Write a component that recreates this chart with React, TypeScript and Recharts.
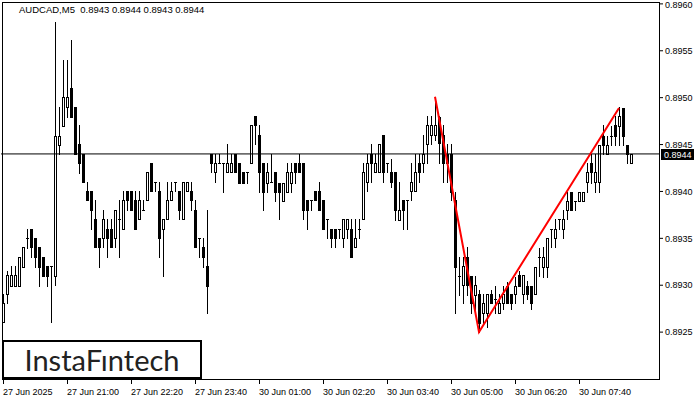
import React from "react";
import { ComposedChart, Bar, Line, XAxis, YAxis, ReferenceLine } from "recharts";

// AUDCAD M5, 27 Jun 2025 19:40 .. 30 Jun 08:45
const opens = [
  0.89261, 0.89291, 0.89299, 0.89299, 0.89299, 0.89319, 0.8935, 0.8936, 0.8935, 0.89341,
  0.8933, 0.8932, 0.8932, 0.8931, 0.8945, 0.8947, 0.8949, 0.8951, 0.8949, 0.89451,
  0.8944, 0.894, 0.894, 0.89371, 0.8935, 0.8935, 0.8936, 0.8936, 0.8935, 0.89371,
  0.8936, 0.894, 0.894, 0.89391, 0.89371, 0.8938, 0.89391, 0.8943, 0.8941, 0.894,
  0.8936, 0.89371, 0.89391, 0.8941, 0.894, 0.89371, 0.894, 0.894, 0.8938, 0.8935,
  0.89341, 0.8932, 0.8944, 0.89421, 0.8943, 0.8943, 0.89421, 0.89421, 0.8944, 0.8943,
  0.89421, 0.89421, 0.8943, 0.8948, 0.8946, 0.8943, 0.89409, 0.8941, 0.89421, 0.89409,
  0.8939, 0.89399, 0.89409, 0.8943, 0.8943, 0.8943, 0.89391, 0.89391, 0.894, 0.894,
  0.89391, 0.89371, 0.8936, 0.8936, 0.8936, 0.8935, 0.8936, 0.8936, 0.89341, 0.8936,
  0.89371, 0.8941, 0.8944, 0.89421, 0.89421, 0.8946, 0.8943, 0.89421, 0.89421, 0.8937,
  0.89391, 0.89391, 0.894, 0.894, 0.8943, 0.8943, 0.89451, 0.8946, 0.8946, 0.89479,
  0.8946, 0.8944, 0.8944, 0.89391, 0.8931, 0.893, 0.8933, 0.8931, 0.8929, 0.89291,
  0.8927, 0.8927, 0.89291, 0.89285, 0.8927, 0.89281, 0.89299, 0.89291, 0.89291, 0.89311,
  0.89291, 0.89299, 0.89299, 0.89291, 0.8933, 0.89319, 0.89319, 0.8936, 0.8935, 0.89371,
  0.8936, 0.8938, 0.89399, 0.8939, 0.8939, 0.8939, 0.8941, 0.8943, 0.8941, 0.8941,
  0.89459, 0.8944, 0.89459, 0.89471, 0.8947, 0.89489, 0.8945, 0.8943,
];
const highs = [
  0.89291, 0.89315, 0.8932, 0.8932, 0.8933, 0.89341, 0.8936, 0.8936, 0.8935, 0.89341,
  0.8933, 0.8932, 0.8932, 0.89581, 0.8949, 0.8954, 0.8954, 0.89561, 0.8949, 0.89471,
  0.8944, 0.8941, 0.894, 0.89391, 0.8935, 0.8938, 0.89371, 0.89371, 0.8938, 0.89391,
  0.894, 0.894, 0.894, 0.894, 0.894, 0.89391, 0.89421, 0.8943, 0.8941, 0.8941,
  0.89371, 0.8941, 0.8941, 0.8941, 0.894, 0.8941, 0.8941, 0.8941, 0.89391, 0.8935,
  0.8935, 0.8938, 0.8944, 0.8944, 0.8944, 0.8943, 0.89451, 0.8944, 0.8944, 0.8943,
  0.89421, 0.89421, 0.89471, 0.8948, 0.89471, 0.8943, 0.8943, 0.8944, 0.89421, 0.89409,
  0.89409, 0.8943, 0.8943, 0.8943, 0.8944, 0.8943, 0.89391, 0.89391, 0.894, 0.8941,
  0.89391, 0.89371, 0.8936, 0.8936, 0.8936, 0.89371, 0.89371, 0.89371, 0.89371, 0.89371,
  0.8943, 0.8944, 0.89451, 0.8944, 0.89451, 0.8946, 0.8943, 0.89435, 0.89421, 0.8941,
  0.89391, 0.89391, 0.8943, 0.8944, 0.8944, 0.8946, 0.8948, 0.8948, 0.895, 0.8948,
  0.89471, 0.89451, 0.89451, 0.89399, 0.8933, 0.8933, 0.89341, 0.8931, 0.8931, 0.89295,
  0.89291, 0.89291, 0.89295, 0.89299, 0.89291, 0.89299, 0.89303, 0.89291, 0.89309, 0.89315,
  0.89311, 0.89305, 0.89299, 0.89319, 0.8934, 0.89341, 0.8935, 0.8936, 0.89371, 0.89371,
  0.8938, 0.89399, 0.89399, 0.8939, 0.89399, 0.89399, 0.8943, 0.8944, 0.8944, 0.8945,
  0.89471, 0.89459, 0.8947, 0.8948, 0.8949, 0.89489, 0.8945, 0.8944,
];
const lows = [
  0.89261, 0.89281, 0.89299, 0.89299, 0.89299, 0.89319, 0.8934, 0.8933, 0.89319, 0.89299,
  0.8931, 0.89299, 0.89261, 0.893, 0.8944, 0.8947, 0.89479, 0.89479, 0.8944, 0.8942,
  0.8941, 0.89391, 0.8936, 0.89341, 0.89319, 0.89341, 0.8933, 0.89341, 0.89341, 0.8933,
  0.8936, 0.8938, 0.8938, 0.8936, 0.89371, 0.8938, 0.89391, 0.894, 0.894, 0.8933,
  0.8931, 0.89371, 0.89391, 0.894, 0.89371, 0.89371, 0.894, 0.8938, 0.89341, 0.8933,
  0.89319, 0.8927, 0.89421, 0.8941, 0.8943, 0.89399, 0.89421, 0.89421, 0.89421, 0.89409,
  0.89409, 0.89409, 0.8943, 0.89451, 0.89399, 0.8938, 0.89399, 0.8941, 0.8939, 0.89371,
  0.8939, 0.89399, 0.89399, 0.89409, 0.89421, 0.89371, 0.8936, 0.8938, 0.89391, 0.8938,
  0.8936, 0.8935, 0.89341, 0.89341, 0.8935, 0.89341, 0.8935, 0.8933, 0.89341, 0.8935,
  0.89371, 0.894, 0.8941, 0.89421, 0.89421, 0.8941, 0.89421, 0.89405, 0.8937, 0.8937,
  0.8936, 0.8936, 0.89391, 0.894, 0.8941, 0.89421, 0.8943, 0.89451, 0.89455, 0.8943,
  0.8941, 0.8941, 0.89391, 0.8927, 0.8929, 0.89281, 0.8929, 0.8927, 0.8927, 0.8925,
  0.8926, 0.89255, 0.89281, 0.8927, 0.8927, 0.89275, 0.89281, 0.89275, 0.89281, 0.89299,
  0.89281, 0.89285, 0.89275, 0.89291, 0.8931, 0.89309, 0.89309, 0.89341, 0.89341, 0.8936,
  0.8935, 0.89371, 0.8938, 0.8938, 0.8939, 0.8939, 0.89399, 0.89409, 0.89399, 0.89399,
  0.8944, 0.8944, 0.8945, 0.8945, 0.8945, 0.8945, 0.8943, 0.8943,
];
const closes = [
  0.89281, 0.89311, 0.89311, 0.89311, 0.8933, 0.89341, 0.8935, 0.89341, 0.8933, 0.89319,
  0.8931, 0.8931, 0.8932, 0.89459, 0.89459, 0.89501, 0.89501, 0.89479, 0.8944, 0.8943,
  0.8941, 0.89391, 0.8938, 0.89341, 0.89341, 0.89371, 0.8935, 0.89341, 0.8938, 0.89371,
  0.89391, 0.89391, 0.8938, 0.8936, 0.89391, 0.8938, 0.89421, 0.894, 0.8941, 0.8935,
  0.89371, 0.89391, 0.894, 0.8941, 0.8938, 0.8941, 0.8941, 0.89391, 0.89341, 0.8935,
  0.8933, 0.89299, 0.8943, 0.8943, 0.8943, 0.8943, 0.8943, 0.8943, 0.89421, 0.89409,
  0.89409, 0.89421, 0.89471, 0.89471, 0.89421, 0.89399, 0.89421, 0.8941, 0.89399, 0.89399,
  0.89409, 0.89421, 0.89421, 0.89421, 0.89421, 0.8938, 0.8938, 0.89391, 0.89391, 0.8938,
  0.8936, 0.89371, 0.8935, 0.8935, 0.8936, 0.89371, 0.89371, 0.8933, 0.8935, 0.8936,
  0.89421, 0.8943, 0.8943, 0.8943, 0.89451, 0.89421, 0.8943, 0.8941, 0.8938, 0.8938,
  0.8938, 0.89391, 0.8941, 0.89421, 0.89421, 0.8944, 0.89471, 0.89471, 0.89471, 0.89452,
  0.8943, 0.8943, 0.89399, 0.89319, 0.8931, 0.8932, 0.893, 0.89281, 0.893, 0.8926,
  0.89281, 0.89291, 0.89281, 0.89285, 0.89281, 0.89291, 0.89281, 0.89281, 0.89299, 0.89299,
  0.89311, 0.89291, 0.89281, 0.89319, 0.8933, 0.8933, 0.8935, 0.8936, 0.8936, 0.89371,
  0.89371, 0.8939, 0.8938, 0.8939, 0.89399, 0.89399, 0.89421, 0.89421, 0.89421, 0.8945,
  0.8945, 0.8945, 0.89459, 0.89459, 0.8948, 0.89459, 0.8944, 0.8944,
];

// red pattern line: bar index -> price
const patternIdx = [108, 119, 154];
const patternVal = [0.89501, 0.8925, 0.89489];

const timeLabels = [
  "27 Jun 2025", "27 Jun 21:00", "27 Jun 22:20", "27 Jun 23:40", "30 Jun 01:00",
  "30 Jun 02:20", "30 Jun 03:40", "30 Jun 05:00", "30 Jun 06:20", "30 Jun 07:40",
];
const labelEvery = 16;
const slots = 164;

const priceTicks = [0.8925, 0.893, 0.8935, 0.894, 0.8945, 0.895, 0.8955, 0.896];

const rows = Array.from({ length: slots }, (_, i) => {
  const k = patternIdx.indexOf(i);
  return {
    i,
    o: opens[i],
    h: highs[i],
    l: lows[i],
    c: closes[i],
    p: k >= 0 ? patternVal[k] : null,
    label: i % labelEvery === 0 ? timeLabels[i / labelEvery] ?? "" : "",
  };
});

const last = opens.length - 1;
const fmt = (v: number) => v.toFixed(4);
const font = "'Liberation Sans', Arial, sans-serif";

function Candle(props: any) {
  const { x, y, width, height, payload } = props;
  if (!payload || payload.o == null) return null;
  const { o, h, l, c } = payload;
  const top = Math.min(y, y + height);
  const bot = Math.max(y, y + height);
  const span = h - l;
  const py = (v: number) => Math.round(span > 0 ? top + ((h - v) / span) * (bot - top) : top);
  const cx = Math.round(x + width / 2);
  const yo = py(o);
  const yc = py(c);
  const yt = Math.min(yo, yc);
  const yb = Math.max(yo, yc);
  let body;
  if (yb - yt < 1) {
    body = <line x1={cx - 1} x2={cx + 2} y1={yt + 0.5} y2={yt + 0.5} stroke="#000" />;
  } else if (c >= o) {
    body = <rect x={cx - 0.5} y={yt + 0.5} width={2} height={yb - yt} fill="#fff" stroke="#000" />;
  } else {
    body = <rect x={cx - 1} y={yt} width={3} height={yb - yt + 1} fill="#000" />;
  }
  return (
    <g>
      <line x1={cx + 0.5} x2={cx + 0.5} y1={Math.round(top)} y2={Math.round(bot) + 1} stroke="#000" />
      {body}
    </g>
  );
}

function TimeTick(props: any) {
  const { x, y, index } = props;
  const text = rows[index]?.label;
  if (!text) return null;
  const px = Math.round(x);
  return (
    <g>
      <line x1={px + 0.5} x2={px + 0.5} y1={y - 8} y2={y - 3} stroke="#000" />
      <text x={px} y={y + 8} fontSize={9} fontFamily={font} fill="#000" textAnchor="start">
        {text}
      </text>
    </g>
  );
}

function PriceTag(props: any) {
  const vb = props.viewBox || {};
  const bx = vb.x + vb.width + 2;
  const by = Math.round(vb.y);
  return (
    <g>
      <rect x={bx} y={by - 5} width={33} height={11} fill="#000" />
      <text x={bx + 3} y={by + 4} fontSize={9} fontFamily={font} fill="#fff">
        {fmt(closes[last])}
      </text>
    </g>
  );
}

export default function App() {
  return (
    <div style={{ position: "absolute", left: 0, top: 0, width: 700, height: 400, background: "#fff" }}>
      <ComposedChart
        width={700}
        height={400}
        data={rows}
        margin={{ top: 2, right: 0, bottom: 0, left: 1 }}
        barCategoryGap={0}
        barGap={0}
      >
        <XAxis
          dataKey="i"
          type="category"
          interval={0}
          padding={{ left: 0, right: 2 }}
          axisLine={false}
          tickLine={false}
          height={21}
          tick={<TimeTick />}
        />
        <YAxis
          orientation="right"
          domain={[0.892, 0.89602]}
          allowDataOverflow
          ticks={priceTicks}
          tickFormatter={fmt}
          width={41}
          axisLine={false}
          tickSize={4}
          tickMargin={2}
          tickLine={{ stroke: "#000" }}
          tick={{ fontSize: 9, fontFamily: font, fill: "#000", textAnchor: "start" }}
        />
        <ReferenceLine y={closes[last]} stroke="#000" strokeWidth={1} label={<PriceTag />} />
        <Bar
          dataKey={(d: any) => (d.o == null ? null : [d.l, d.h])}
          shape={<Candle />}
          isAnimationActive={false}
        />
        <Line
          dataKey="p"
          connectNulls
          dot={false}
          stroke="#ff0000"
          strokeWidth={2}
          isAnimationActive={false}
        />
      </ComposedChart>
      <div
        style={{
          position: "absolute",
          left: 2,
          top: 2,
          width: 658,
          height: 378,
          boxSizing: "border-box",
          border: "1px solid #000",
          pointerEvents: "none",
        }}
      />
      <div
        style={{
          position: "absolute",
          left: 19,
          top: 4,
          fontSize: 9.5,
          lineHeight: "12px",
          fontFamily: font,
          whiteSpace: "pre",
          color: "#000",
        }}
      >
        {`AUDCAD,M5  ${fmt(opens[last])} ${fmt(highs[last])} ${fmt(lows[last])} ${fmt(closes[last])}`}
      </div>
      <div
        style={{
          position: "absolute",
          left: 2,
          top: 340,
          width: 200,
          height: 39,
          boxSizing: "border-box",
          border: "2px solid #000",
          background: "#fff",
          display: "flex",
          alignItems: "center",
          justifyContent: "center",
          fontFamily: "Lato, 'Open Sans', sans-serif",
          fontSize: 29,
          color: "#222",
        }}
      >
        InstaFıntech
      </div>
    </div>
  );
}
